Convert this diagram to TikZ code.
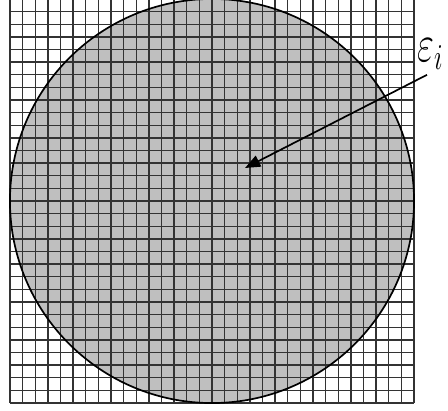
\documentclass[tikz,border=0pt]{standalone}
\usetikzlibrary{arrows.meta, positioning}

\begin{document}
\begin{tikzpicture}[
    x=0.025cm, y=-0.025cm,
    gridline/.style={draw=black!80, line width=1pt},
    disk/.style={circle, draw=black, line width=1.2pt, minimum size=10.1cm, inner sep=0pt},
    arrow/.style={-{Triangle[length=0.38cm, width=0.3cm]}, line width=1.2pt}
]
\useasboundingbox (0,0) rectangle (448,410);
% shaded domain under the mesh
\fill[black!25] (212,201) circle[radius=202];
% mesh
\foreach \k in {0,...,32} {
  \draw[gridline] (10+12.625*\k, 0) -- (10+12.625*\k, 403);
}
\foreach \k in {0,...,31} {
  \draw[gridline] (10, 403-12.625*\k) -- (414, 403-12.625*\k);
}
\node[disk] (domain) at (212,201) {};
\coordinate (elem) at (245,168);
\node[anchor=south west, inner sep=0pt, font=\fontsize{24}{24}\selectfont, xscale=1.05, yscale=1.5] (eps) at (417,70) {$\varepsilon_i$};
\draw[arrow] ([xshift=0.25cm, yshift=-0.12cm]eps.south west) -- (elem);
\end{tikzpicture}
\end{document}
